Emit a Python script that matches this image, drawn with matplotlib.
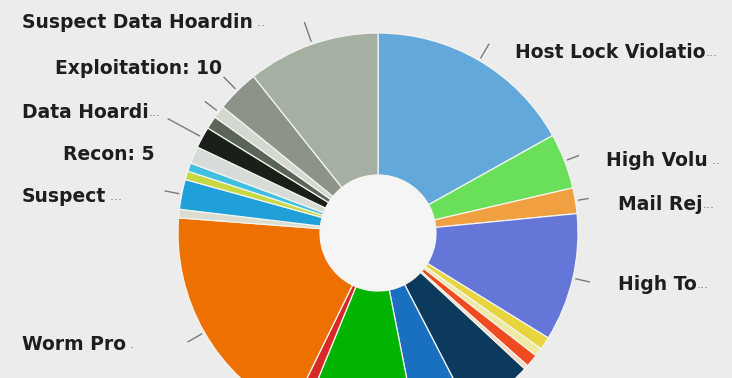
import numpy as np
import matplotlib.pyplot as plt
from matplotlib.patches import Circle

# slices, clockwise from 12 o'clock
names = ['Host Lock Violation', 'High Volume', 'Mail Rejected', 'High Tomcat',
         'Sliver A', 'Sliver B', 'Sliver C', 'Sliver D',
         'Navy', 'Blue', 'Green', 'Red', 'Worm Propagation',
         'Sliver E', 'Suspect Activity', 'Sliver F', 'Sliver G', 'Sliver H',
         'Recon', 'Sliver I', 'Data Hoarding', 'Exploitation', 'Suspect Data Hoarding']
values = [49, 13, 6, 30,
          3, 2, 3, 1,
          16, 13, 27, 3, 55,
          2, 7, 2, 2, 4,
          5, 3, 3, 10, 31]
colors = ['#62a8da', '#6ae05a', '#f0a040', '#6476d8',
          '#e8d43c', '#eeeaa0', '#f04a20', '#f4d8c0',
          '#0b3a5c', '#1a70c0', '#00b400', '#d82828', '#ee7000',
          '#dcdcd0', '#1fa0d8', '#c8d840', '#40c0e0', '#d8dcd8',
          '#1a2018', '#5b6458', '#d4d8d0', '#8c9489', '#a5b0a2']

# label text shown for some slices: (slice index, text, ellipsis)
label_idx = [22, 21, 20, 18, 14, 12, 0, 1, 2, 3]
label_txt = ['Suspect Data Hoardin', 'Exploitation: 10', 'Data Hoardi', 'Recon: 5',
             'Suspect', 'Worm Pro', 'Host Lock Violatio', 'High Volu', 'Mail Rej', 'High To']
label_dots = [' ..', '', '...', '', ' ...', ' .', '...', ' ..', '...', '...']

# layout (pixel positions of label starts, connector lengths)
label_pos = [(22, 22), (55, 68), (22, 113), (63, 155), (22, 197), (22, 345),
             (515, 52), (606, 160), (618, 205), (618, 285)]
conn_len = [20, 16, 14, 36, 14, 16, 16, 12, 10, 14]

W, H = 732, 378
cx, cy = 378, 233
R, r_hole = 200, 58
bg = '#ececec'


def to_data(px, py):
    return px - cx, cy - py


fig = plt.figure(figsize=(W / 100, H / 100), dpi=100)
fig.patch.set_facecolor(bg)
ax = fig.add_axes([0, 0, 1, 1])
ax.set_facecolor(bg)

wedges, _ = ax.pie(values, colors=colors, startangle=90, counterclock=False,
                   radius=R, center=(0, 0),
                   wedgeprops=dict(width=R - r_hole, edgecolor='#f4f4ee', linewidth=0.9))
ax.add_patch(Circle((0, 0), r_hole, facecolor='#f5f5f5', edgecolor='none', zorder=3))

for k, i in enumerate(label_idx):
    w = wedges[i]
    ang = np.deg2rad((w.theta1 + w.theta2) / 2)
    r0, r1 = R + 3, R + 3 + conn_len[k]
    ax.plot([r0 * np.cos(ang), r1 * np.cos(ang)], [r0 * np.sin(ang), r1 * np.sin(ang)],
            color='#7a7a7a', lw=1, solid_capstyle='round')
    x, y = to_data(*label_pos[k])
    t = ax.text(x, y, label_txt[k], ha='left', va='center', fontsize=13.5,
                fontweight='bold', color='#1e1e1e', family='DejaVu Sans')
    if label_dots[k]:
        ax.annotate(label_dots[k], xy=(1, 0.5), xycoords=t, va='center', ha='left',
                    fontsize=9, color='#777777', family='DejaVu Sans')

ax.set_xlim(-cx, W - cx)
ax.set_ylim(cy - H, cy)
ax.set_aspect('equal')
ax.axis('off')

fig.savefig('out.png', dpi=100, facecolor=bg)
